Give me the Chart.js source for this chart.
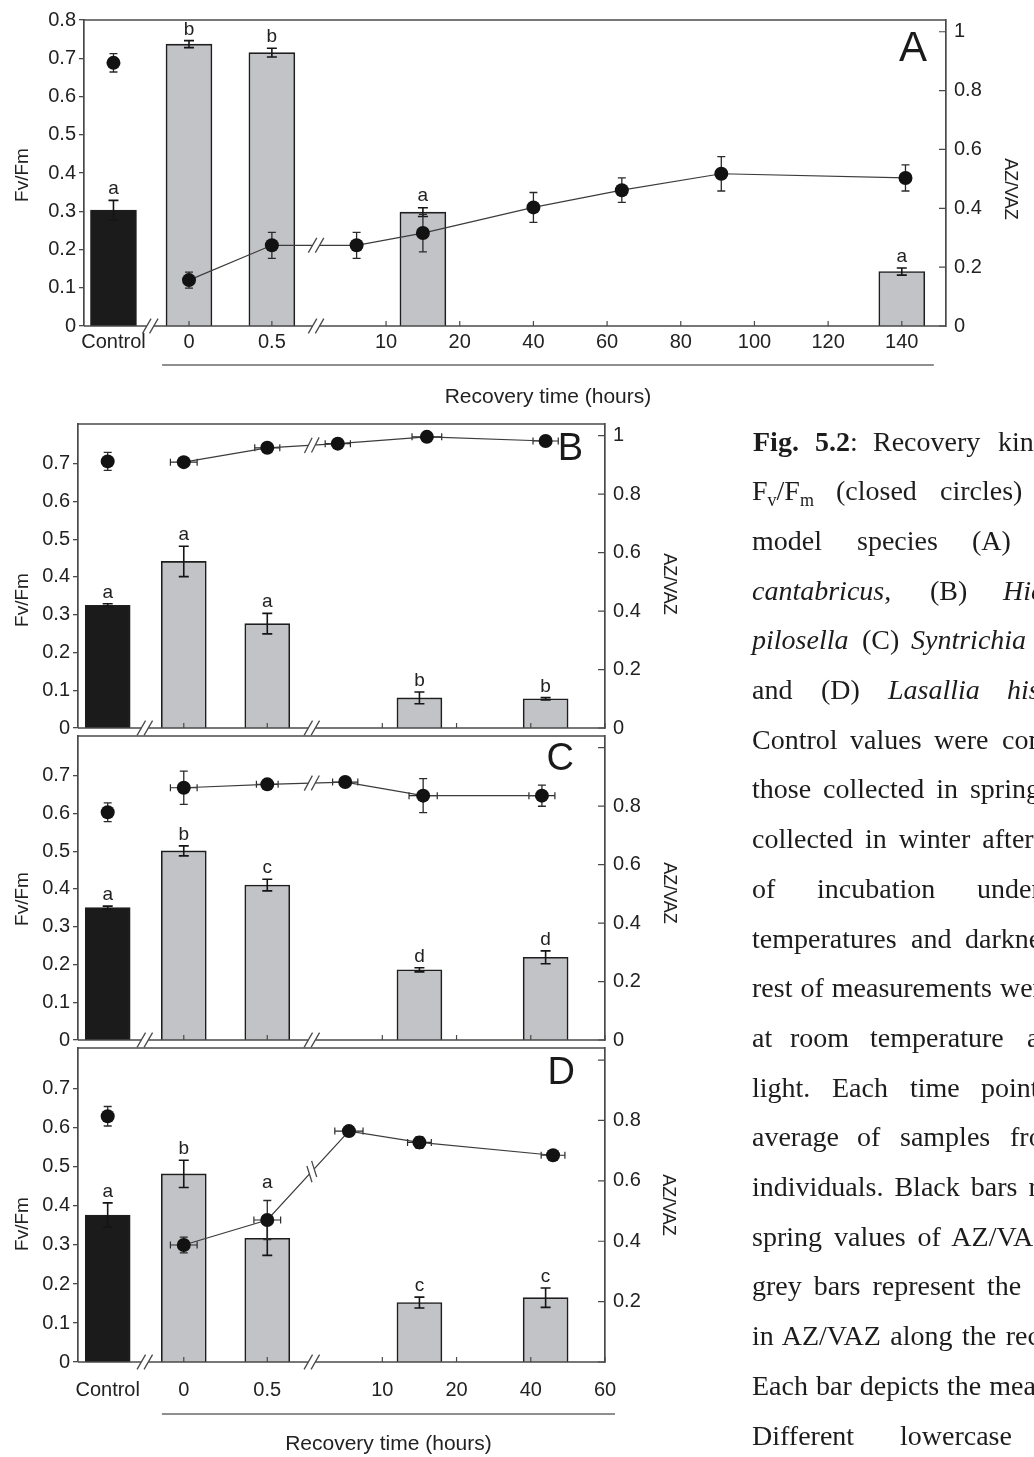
<!DOCTYPE html>
<html>
<head>
<meta charset="utf-8">
<title>Fig. 5.2 – Recovery kinetics of Fv/Fm and AZ/VAZ</title>
<script src="https://cdn.jsdelivr.net/npm/chart.js@4.4.1/dist/chart.umd.min.js"></script>
<style>
  html, body { margin: 0; padding: 0; background: #fff; }
  body { width: 1034px; height: 1457px; position: relative; overflow: hidden; }
  canvas { position: absolute; left: 0; }
  #caption { position: absolute; left: 0; top: 0; width: 1034px; height: 1457px;
             font-family: 'Liberation Serif', 'Times New Roman', serif; font-size: 28px; color: #1c1c1c; }
  .w { position: absolute; white-space: nowrap; line-height: 28px; }
  .w sub { font-size: 18px; vertical-align: -6px; line-height: 0; }
</style>
</head>
<body>
<canvas id="panelA" width="1034" height="420" style="top:0px"></canvas>
<canvas id="panelB" width="720" height="344" style="top:404px"></canvas>
<canvas id="panelC" width="720" height="344" style="top:716px"></canvas>
<canvas id="panelD" width="720" height="429" style="top:1028px"></canvas>
<div id="caption"></div>

<script>
// ---------------- data ----------------
// Tick labels
const xTicksA   = ['Control', 0, 0.5, 10, 20, 40, 60, 80, 100, 120, 140];
const xTicksBCD = ['Control', 0, 0.5, 10, 20, 40, 60];
const fvTicksA   = [0, 0.1, 0.2, 0.3, 0.4, 0.5, 0.6, 0.7, 0.8];
const fvTicksBCD = [0, 0.1, 0.2, 0.3, 0.4, 0.5, 0.6, 0.7];
const azTicks    = [0, 0.2, 0.4, 0.6, 0.8, 1];
const azLabelsAB = ['0', '0.2', '0.4', '0.6', '0.8', '1'];
const azLabelsC  = ['0', '0.2', '0.4', '0.6', '0.8', ''];
const azLabelsD  = ['', '0.2', '0.4', '0.6', '0.8', ''];

// AZ/VAZ bars (sampling times in hours; 'Control' = spring values)
const barHoursA   = ['Control', 0, 0.5, 15, 140];
const barHoursBCD = ['Control', 0, 0.5, 15, 44];

// Panel A
const azA      = [0.394, 0.958, 0.929, 0.387, 0.185];
const azErrA   = [0.033, 0.012, 0.015, 0.015, 0.012];
const lettersA = ['a', 'b', 'b', 'a', 'a'];
const fvControlA = 0.688, fvControlErrA = 0.024;
const fvHoursA = [0, 0.5, 6, 15, 40, 64, 91, 141];
const fvA      = [0.12, 0.211, 0.211, 0.243, 0.31, 0.355, 0.398, 0.387];
const fvErrA   = [0.021, 0.034, 0.034, 0.049, 0.039, 0.032, 0.045, 0.034];

// Panel B
const azB      = [0.42, 0.57, 0.357, 0.103, 0.10];
const azErrB   = [0.005, 0.052, 0.035, 0.02, 0.004];
const lettersB = ['a', 'a', 'a', 'b', 'b'];
const fvControlB = 0.706, fvControlErrB = 0.024;
const fvHoursB   = [0, 0.5, 4, 16, 44];
const fvB        = [0.704, 0.742, 0.753, 0.771, 0.760];
const fvErrB     = [0.01, 0.01, 0.01, 0.01, 0.01];
const fvHourErrB = [0.08, 0.075, 1.7, 2, 3.4];

// Panel C
const azC      = [0.453, 0.647, 0.53, 0.24, 0.283];
const azErrC   = [0.005, 0.017, 0.02, 0.007, 0.022];
const lettersC = ['a', 'b', 'c', 'd', 'd'];
const fvControlC = 0.603, fvControlErrC = 0.025;
const fvHoursC   = [0, 0.5, 5, 15.5, 43];
const fvC        = [0.668, 0.677, 0.683, 0.647, 0.647];
const fvErrC     = [0.044, 0.01, 0.01, 0.045, 0.028];
const fvHourErrC = [0.08, 0.065, 1.7, 1.9, 3.5];

// Panel D
const azD      = [0.487, 0.623, 0.41, 0.197, 0.213];
const azErrD   = [0.04, 0.045, 0.057, 0.018, 0.032];
const lettersD = ['a', 'b', 'a', 'c', 'c'];
const fvControlD = 0.63, fvControlErrD = 0.025;
const fvHoursD   = [0, 0.5, 5.5, 15, 46];
const fvD        = [0.30, 0.364, 0.592, 0.563, 0.53];
const fvErrD     = [0.02, 0.05, 0.012, 0.015, 0.012];
const fvHourErrD = [0.08, 0.08, 1.9, 1.6, 3.2];

// ---------------- broken time axis ----------------
// Axis units: a slot for the control, a stretched 0–0.5 h section, a break,
// then recovery hours (10–20 h at double scale, one unit per hour beyond 20 h).
const CONTROL_SLOT = 8;
const EARLY_ORIGIN = 28.5, EARLY_PER_HOUR = 45;
const LATE_ORIGIN = 62, LATE_KNEE = 20;
const AXIS_BREAKS = [18, 63];

function segmentOf(h) {
  if (h === 'Control') return 'control';
  return h <= 0.5 ? 'early' : 'late';
}
function axisPos(h, seg = segmentOf(h)) {
  if (seg === 'control') return CONTROL_SLOT;
  if (seg === 'early') return EARLY_ORIGIN + EARLY_PER_HOUR * h;
  return h < LATE_KNEE ? LATE_ORIGIN + 2 * h : LATE_ORIGIN + LATE_KNEE + h;
}

// ---------------- styling ----------------
const FONT = "'Liberation Sans', Arial, Helvetica, sans-serif";
const AXIS_COLOR = '#4a4a4a';
const TEXT_COLOR = '#222';
const GREY_BAR = '#c2c3c6';
const BLACK_BAR = '#1b1b1b';
const BAR_EDGE = '#1e1e1e';
const DOT = '#121212';
const LINE = '#3c3c3c';
const DOT_RADIUS = 7;
Chart.defaults.font.family = FONT;

function vError(ctx, x, yLo, yHi, cap, color, lw) {
  ctx.save();
  ctx.strokeStyle = color; ctx.lineWidth = lw;
  ctx.beginPath();
  ctx.moveTo(x, yLo); ctx.lineTo(x, yHi);
  ctx.moveTo(x - cap / 2, yLo); ctx.lineTo(x + cap / 2, yLo);
  ctx.moveTo(x - cap / 2, yHi); ctx.lineTo(x + cap / 2, yHi);
  ctx.stroke();
  ctx.restore();
}
function hError(ctx, y, xLo, xHi, cap, color, lw) {
  ctx.save();
  ctx.strokeStyle = color; ctx.lineWidth = lw;
  ctx.beginPath();
  ctx.moveTo(xLo, y); ctx.lineTo(xHi, y);
  ctx.moveTo(xLo, y - cap / 2); ctx.lineTo(xLo, y + cap / 2);
  ctx.moveTo(xHi, y - cap / 2); ctx.lineTo(xHi, y + cap / 2);
  ctx.stroke();
  ctx.restore();
}
// Two parallel strokes marking a break; d is the direction of the broken line
function breakMarks(ctx, cx, cy, d, gapColor) {
  const m = { x: 0.5 * d.x + 0.866 * d.y, y: -0.866 * d.x + 0.5 * d.y };
  const half = 3.5, len = 8.5;
  ctx.save();
  ctx.strokeStyle = gapColor; ctx.lineWidth = 5;
  ctx.beginPath();
  ctx.moveTo(cx - d.x * half, cy - d.y * half);
  ctx.lineTo(cx + d.x * half, cy + d.y * half);
  ctx.stroke();
  ctx.strokeStyle = AXIS_COLOR; ctx.lineWidth = 1.3;
  ctx.beginPath();
  [-half, half].forEach(o => {
    const px = cx + d.x * o, py = cy + d.y * o;
    ctx.moveTo(px - m.x * len, py - m.y * len);
    ctx.lineTo(px + m.x * len, py + m.y * len);
  });
  ctx.stroke();
  ctx.restore();
}

function decorations(cfg) {
  // Fv/Fm points (with their error) that sit over a given x pixel
  function dotTopNear(chart, px) {
    const x = chart.scales.x, fv = chart.scales.fv;
    let top = Infinity;
    const pts = cfg.fvHours.map((h, i) => [axisPos(h), cfg.fv[i] + cfg.fvErr[i]]);
    pts.push([axisPos('Control'), cfg.fvControl + cfg.fvControlErr]);
    pts.forEach(([u, v]) => {
      if (Math.abs(x.getPixelForValue(u) - px) < 20) top = Math.min(top, fv.getPixelForValue(v) - DOT_RADIUS);
    });
    return top;
  }
  return {
    id: 'decor',
    beforeDatasetDraw(chart, args) {
      const ctx = chart.ctx, x = chart.scales.x, fv = chart.scales.fv;
      if (args.index === 1) {
        const px = x.getPixelForValue(axisPos('Control'));
        vError(ctx, px, fv.getPixelForValue(cfg.fvControl - cfg.fvControlErr),
               fv.getPixelForValue(cfg.fvControl + cfg.fvControlErr), 8, '#2a2a2a', 1.3);
      } else if (args.index === 2) {
        cfg.fvHours.forEach((h, i) => {
          const seg = segmentOf(h);
          const px = x.getPixelForValue(axisPos(h, seg));
          const py = fv.getPixelForValue(cfg.fv[i]);
          vError(ctx, px, fv.getPixelForValue(cfg.fv[i] - cfg.fvErr[i]),
                 fv.getPixelForValue(cfg.fv[i] + cfg.fvErr[i]), 8, '#2a2a2a', 1.3);
          if (cfg.fvHourErr) {
            const e = cfg.fvHourErr[i];
            hError(ctx, py, x.getPixelForValue(axisPos(h - e, seg)),
                   x.getPixelForValue(axisPos(h + e, seg)), 7, '#2a2a2a', 1.2);
          }
        });
      }
    },
    afterDatasetDraw(chart, args) {
      if (args.index !== 0) return;
      const ctx = chart.ctx, x = chart.scales.x, az = chart.scales.az;
      ctx.save();
      ctx.font = `${cfg.letterFont}px ${FONT}`;
      ctx.fillStyle = TEXT_COLOR; ctx.textAlign = 'center'; ctx.textBaseline = 'alphabetic';
      cfg.barHours.forEach((h, i) => {
        const px = x.getPixelForValue(axisPos(h));
        const top = az.getPixelForValue(cfg.az[i] + cfg.azErr[i]);
        vError(ctx, px, az.getPixelForValue(cfg.az[i] - cfg.azErr[i]), top, 10, '#151515', 1.6);
        // keep the letter clear of a circle's error bar standing over the bar
        const dotTop = dotTopNear(chart, px);
        const lift = (dotTop < top && dotTop > top - 40) ? dotTop : top;
        ctx.fillText(cfg.letters[i], px, lift - 6);
      });
      ctx.restore();
    },
    afterDatasetsDraw(chart) {
      const ctx = chart.ctx, a = chart.chartArea, x = chart.scales.x, az = chart.scales.az;
      ctx.save();
      ctx.strokeStyle = AXIS_COLOR; ctx.lineCap = 'butt';

      // top frame line
      ctx.lineWidth = 1.5;
      ctx.beginPath(); ctx.moveTo(a.left, a.top); ctx.lineTo(a.right, a.top); ctx.stroke();

      // bottom axis line
      ctx.lineWidth = 1.7;
      ctx.beginPath(); ctx.moveTo(a.left, a.bottom); ctx.lineTo(a.right, a.bottom); ctx.stroke();

      // inward tick marks on the time axis
      ctx.lineWidth = 1.2;
      ctx.beginPath();
      cfg.xTicks.filter(t => t !== 'Control').forEach(t => {
        const px = x.getPixelForValue(axisPos(t));
        ctx.moveTo(px, a.bottom); ctx.lineTo(px, a.bottom - 5);
      });
      // inward tick marks on the AZ/VAZ axis
      azTicks.forEach(v => {
        const py = az.getPixelForValue(v);
        ctx.moveTo(a.right - 7, py); ctx.lineTo(a.right, py);
      });
      ctx.stroke();

      // axis breaks
      AXIS_BREAKS.forEach(b => breakMarks(ctx, x.getPixelForValue(b), a.bottom, { x: 1, y: 0 }, '#fff'));

      // break on the recovery line between the 0.5 h point and the first later point
      const pts = chart.getDatasetMeta(2).data;
      const k = cfg.fvHours.findIndex((h, i) => h <= 0.5 && cfg.fvHours[i + 1] > 0.5);
      if (k >= 0) {
        const p0 = pts[k], p1 = pts[k + 1];
        const bx = x.getPixelForValue(AXIS_BREAKS[1]);
        const t = (bx - p0.x) / (p1.x - p0.x);
        const by = p0.y + t * (p1.y - p0.y);
        const L = Math.hypot(p1.x - p0.x, p1.y - p0.y);
        breakMarks(ctx, bx, by, { x: (p1.x - p0.x) / L, y: (p1.y - p0.y) / L }, '#fff');
      }

      // axis titles
      ctx.fillStyle = TEXT_COLOR;
      ctx.textAlign = 'center'; ctx.textBaseline = 'middle';
      const midY = (a.top + a.bottom) / 2;
      ctx.font = `19px ${FONT}`;
      ctx.save(); ctx.translate(cfg.fvTitle[0], midY + cfg.fvTitle[1]); ctx.rotate(-Math.PI / 2);
      ctx.fillText('Fv/Fm', 0, 0); ctx.restore();
      ctx.font = `18px ${FONT}`;
      ctx.save(); ctx.translate(cfg.azTitle[0], midY + cfg.azTitle[1]); ctx.rotate(Math.PI / 2);
      ctx.fillText('AZ/VAZ', 0, 0); ctx.restore();

      // time-axis title with its rule
      if (cfg.timeTitle) {
        const [u0, u1, lineDy, textDy] = cfg.timeTitle;
        const x0 = x.getPixelForValue(u0), x1 = x.getPixelForValue(u1);
        ctx.strokeStyle = '#6a6a6a'; ctx.lineWidth = 1.5;
        ctx.beginPath(); ctx.moveTo(x0, a.bottom + lineDy); ctx.lineTo(x1, a.bottom + lineDy); ctx.stroke();
        ctx.font = `21px ${FONT}`;
        ctx.fillText('Recovery time (hours)', (x0 + x1) / 2, a.bottom + textDy);
      }

      // panel letter
      ctx.font = `${cfg.panelFont}px ${FONT}`;
      ctx.textAlign = 'right'; ctx.textBaseline = 'alphabetic';
      ctx.fillStyle = '#1a1a1a';
      ctx.fillText(cfg.panel, a.right + cfg.panelPos[0], a.top + cfg.panelPos[1]);
      ctx.restore();
    }
  };
}

function buildPanel(id, cfg) {
  const tickFont = { family: FONT, size: 20 };
  return new Chart(document.getElementById(id), {
    type: 'line',
    data: {
      datasets: [
        {
          type: 'bar', order: 3, xAxisID: 'x', yAxisID: 'az',
          data: cfg.barHours.map((h, i) => ({ x: axisPos(h), y: cfg.az[i] })),
          backgroundColor: cfg.barHours.map(h => h === 'Control' ? BLACK_BAR : GREY_BAR),
          borderColor: BAR_EDGE, borderWidth: 1.6, barThickness: cfg.barWidth, clip: false
        },
        {
          type: 'line', order: 2, xAxisID: 'x', yAxisID: 'fv', showLine: false,
          data: [{ x: axisPos('Control'), y: cfg.fvControl }],
          pointRadius: DOT_RADIUS, pointBackgroundColor: DOT, pointBorderColor: DOT, pointBorderWidth: 0, clip: false
        },
        {
          type: 'line', order: 1, xAxisID: 'x', yAxisID: 'fv',
          data: cfg.fvHours.map((h, i) => ({ x: axisPos(h), y: cfg.fv[i] })),
          borderColor: LINE, borderWidth: 1.2, tension: 0, fill: false,
          pointRadius: DOT_RADIUS, pointBackgroundColor: DOT, pointBorderColor: DOT, pointBorderWidth: 0, clip: false
        }
      ]
    },
    options: {
      responsive: false, animation: false, events: [],
      layout: { padding: { top: cfg.padTop, bottom: cfg.padBottom, left: 0, right: 0 } },
      plugins: { legend: { display: false }, tooltip: { enabled: false } },
      scales: {
        x: {
          type: 'linear', position: 'bottom', min: 0, max: cfg.xMax, offset: false,
          display: cfg.showX,
          grid: { display: false, offset: false, drawTicks: false },
          border: { display: false },
          afterBuildTicks: s => { s.ticks = cfg.xTicks.map(t => ({ value: axisPos(t) })); },
          afterFit: s => { if (cfg.showX) s.height = cfg.xHeight; },
          ticks: {
            autoSkip: false, maxRotation: 0, minRotation: 0, padding: cfg.xLabelPad,
            color: TEXT_COLOR, font: tickFont,
            callback: (v, i) => String(cfg.xTicks[i])
          }
        },
        fv: {
          type: 'linear', position: 'left', min: 0, max: cfg.fvMax,
          afterBuildTicks: s => { s.ticks = cfg.fvTicks.map(v => ({ value: v })); },
          afterFit: s => { s.width = cfg.leftWidth; },
          grid: { drawOnChartArea: false, drawTicks: true, tickLength: 5, color: AXIS_COLOR, lineWidth: 1.3 },
          border: { display: true, color: AXIS_COLOR, width: 1.7 },
          ticks: { padding: 3, color: TEXT_COLOR, font: tickFont, callback: v => String(v) }
        },
        az: {
          type: 'linear', position: 'right', min: 0, max: 1.04,
          afterBuildTicks: s => { s.ticks = azTicks.map(v => ({ value: v })); },
          afterFit: s => { s.width = cfg.rightWidth; },
          grid: { display: false, drawOnChartArea: false, drawTicks: false },
          border: { display: true, color: AXIS_COLOR, width: 1.7 },
          ticks: { padding: 8, color: TEXT_COLOR, font: tickFont, callback: (v, i) => cfg.azLabels[i] }
        }
      }
    },
    plugins: [decorations(cfg)]
  });
}

const commonBCD = {
  barHours: barHoursBCD, xTicks: xTicksBCD, fvTicks: fvTicksBCD, fvMax: 0.805,
  xMax: 142, leftWidth: 78, rightWidth: 115, barWidth: 45, letterFont: 19, panelFont: 38,
  padTop: 20
};

buildPanel('panelA', {
  barHours: barHoursA, az: azA, azErr: azErrA, letters: lettersA,
  fvControl: fvControlA, fvControlErr: fvControlErrA,
  fvHours: fvHoursA, fv: fvA, fvErr: fvErrA, fvHourErr: null,
  xTicks: xTicksA, fvTicks: fvTicksA, fvMax: 0.8, azLabels: azLabelsAB,
  xMax: 234, leftWidth: 84, rightWidth: 88, barWidth: 46, letterFont: 19,
  padTop: 16, padBottom: 0, showX: true, xHeight: 94, xLabelPad: 4,
  fvTitle: [23, 2], azTitle: [1010, 16], timeTitle: [21.2, 230.7, 39, 71],
  panel: 'A', panelFont: 42, panelPos: [-19, 41]
});
buildPanel('panelB', Object.assign({}, commonBCD, {
  az: azB, azErr: azErrB, letters: lettersB,
  fvControl: fvControlB, fvControlErr: fvControlErrB,
  fvHours: fvHoursB, fv: fvB, fvErr: fvErrB, fvHourErr: fvHourErrB,
  azLabels: azLabelsAB, padBottom: 12, showX: false,
  fvTitle: [23, 24], azTitle: [669, 8], timeTitle: null,
  panel: 'B', panelPos: [-22, 36]
}));
buildPanel('panelC', Object.assign({}, commonBCD, {
  az: azC, azErr: azErrC, letters: lettersC,
  fvControl: fvControlC, fvControlErr: fvControlErrC,
  fvHours: fvHoursC, fv: fvC, fvErr: fvErrC, fvHourErr: fvHourErrC,
  azLabels: azLabelsC, padBottom: 12, showX: false,
  fvTitle: [23, 11], azTitle: [669, 5], timeTitle: null,
  panel: 'C', panelPos: [-31, 34]
}));
buildPanel('panelD', Object.assign({}, commonBCD, {
  az: azD, azErr: azErrD, letters: lettersD,
  fvControl: fvControlD, fvControlErr: fvControlErrD,
  fvHours: fvHoursD, fv: fvD, fvErr: fvErrD, fvHourErr: fvHourErrD,
  azLabels: azLabelsD, padBottom: 0, showX: true, xHeight: 95, xLabelPad: 16,
  fvTitle: [23, 19], azTitle: [668, 0], timeTitle: [22.6, 144.7, 52, 82],
  panel: 'D', panelPos: [-30, 36]
}));

// ---------------- caption ----------------
// Each line: either words placed at set x positions (justified lines)
// or a run of text with a given extra word spacing.
const CAPTION_BASELINE = 451, CAPTION_STEP = 49.7, CAPTION_LEFT = 752;
const captionLines = [
  { words: [[753, '<b>Fig.</b>'], [815, '<b>5.2</b>:'], [873, 'Recovery'], [998, 'kinetics']] },
  { words: [[752, 'F<sub>v</sub>/F<sub>m</sub>'], [836, '(closed'], [940, 'circles)']] },
  { words: [[752, 'model'], [857, 'species'], [972, '(A)']] },
  { words: [[752, '<i>cantabricus</i>,'], [930, '(B)'], [1003, '<i>Hieracium</i>']] },
  { words: [[752, '<i>pilosella</i>'], [862, '(C)'], [911, '<i>Syntrichia</i>']] },
  { words: [[752, 'and'], [821, '(D)'], [888, '<i>Lasallia</i>'], [1007, '<i>hispanica</i>']] },
  { words: [[752, 'Control'], [850, 'values'], [934, 'were'], [1002, 'compared']] },
  { text: 'those collected in spring', ws: 5 },
  { text: 'collected in winter after', ws: 5 },
  { words: [[752, 'of'], [817, 'incubation'], [977, 'under']] },
  { words: [[752, 'temperatures'], [911, 'and'], [965, 'darkness']] },
  { text: 'rest of measurements were', ws: 1 },
  { words: [[752, 'at'], [790, 'room'], [870, 'temperature'], [1027, 'and']] },
  { words: [[752, 'light.'], [832, 'Each'], [910, 'time'], [981, 'point']] },
  { words: [[752, 'average'], [857, 'of'], [900, 'samples'], [1010, 'from']] },
  { text: 'individuals. Black bars represent', ws: 4 },
  { text: 'spring values of AZ/VAZ', ws: 5 },
  { text: 'grey bars represent the', ws: 5 },
  { text: 'in AZ/VAZ along the recovery', ws: 2.5 },
  { text: 'Each bar depicts the mean', ws: 1 },
  { words: [[752, 'Different'], [900, 'lowercase']] }
];
const captionBox = document.getElementById('caption');
captionLines.forEach((line, k) => {
  const top = CAPTION_BASELINE + k * CAPTION_STEP - 23.5;
  const items = line.words || [[CAPTION_LEFT, line.text]];
  items.forEach(([left, html]) => {
    const span = document.createElement('div');
    span.className = 'w';
    span.style.left = left + 'px';
    span.style.top = top + 'px';
    if (line.ws) span.style.wordSpacing = line.ws + 'px';
    span.innerHTML = html;
    captionBox.appendChild(span);
  });
});
</script>
</body>
</html>
